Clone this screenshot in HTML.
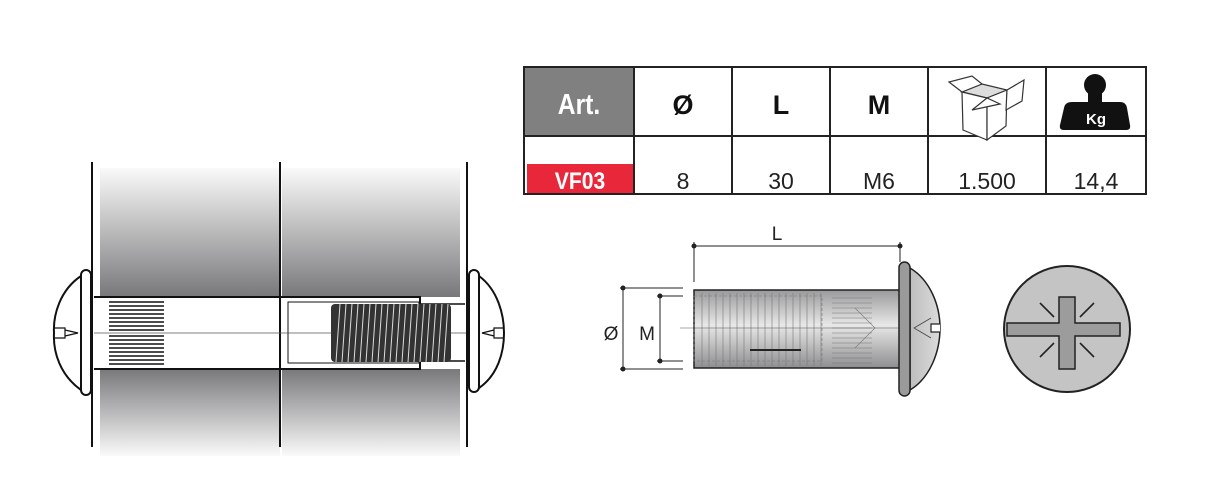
<!DOCTYPE html>
<html><head><meta charset="utf-8"><style>
html,body{margin:0;padding:0;background:#fff;}
svg{display:block}
text{font-family:"Liberation Sans",sans-serif;}
</style></head><body>
<svg width="1221" height="504" viewBox="0 0 1221 504" xmlns="http://www.w3.org/2000/svg">
<defs>
<linearGradient id="gt" x1="0" y1="0" x2="0" y2="1"><stop offset="0" stop-color="#fafafa"/><stop offset="1" stop-color="#77777a"/></linearGradient>
<linearGradient id="gb" x1="0" y1="0" x2="0" y2="1"><stop offset="0" stop-color="#77777a"/><stop offset="1" stop-color="#fafafa"/></linearGradient>
<linearGradient id="gs" x1="0" y1="0" x2="0" y2="1"><stop offset="0" stop-color="#9a9a9c"/><stop offset="0.45" stop-color="#e8e8e8"/><stop offset="1" stop-color="#8e8e90"/></linearGradient>
<linearGradient id="gh" x1="0" y1="0" x2="1" y2="0"><stop offset="0" stop-color="#bdbdbd"/><stop offset="1" stop-color="#dcdcdc"/></linearGradient>
</defs>
<rect x="524" y="67" width="110" height="69" fill="#808080"/>
<rect x="527" y="164" width="107" height="29" fill="#e8283a"/>
<g stroke="#222" stroke-width="2" fill="none">
<rect x="524" y="67" width="622" height="127"/>
<line x1="524" y1="136" x2="1146" y2="136"/>
<line x1="634" y1="67" x2="634" y2="194"/>
<line x1="732" y1="67" x2="732" y2="194"/>
<line x1="830" y1="67" x2="830" y2="194"/>
<line x1="928" y1="67" x2="928" y2="194"/>
<line x1="1046" y1="67" x2="1046" y2="194"/>
</g>
<text x="579" y="114" font-size="29" font-weight="bold" fill="#fff" text-anchor="middle" transform="translate(579 0) scale(0.85 1) translate(-579 0)">Art.</text>
<text x="683" y="114" font-size="27" font-weight="bold" fill="#111" text-anchor="middle">Ø</text>
<text x="781" y="114" font-size="27" font-weight="bold" fill="#111" text-anchor="middle">L</text>
<text x="879" y="114" font-size="27" font-weight="bold" fill="#111" text-anchor="middle">M</text>
<text x="580" y="189" font-size="24" font-weight="bold" fill="#fff" text-anchor="middle" transform="translate(580 0) scale(0.88 1) translate(-580 0)">VF03</text>
<g font-size="23" fill="#222" text-anchor="middle">
<text x="683" y="189">8</text><text x="781" y="189">30</text><text x="879" y="189">M6</text><text x="987" y="189">1.500</text><text x="1096" y="189">14,4</text>
</g>
<g stroke="#333" stroke-width="1.2" fill="#fff">
<polygon points="962,92 982,84 1007,90 987,98" fill="#ddd"/>
<polygon points="962,92 987,98 987,140 963,130"/>
<polygon points="987,98 1007,90 1006,126 987,140"/>
<polygon points="962,92 949,82 972,76 982,84"/>
<polygon points="1007,90 1024,80 1022,101 1006,110"/>
<polygon points="987,98 972,110 1000,104"/>
</g>
<circle cx="1095" cy="85" r="11" fill="#111"/>
<rect x="1088" y="90" width="14" height="14" fill="#111"/>
<path d="M1072 102 L1120 102 Q1126 102 1127 108 L1130 125 Q1131 130 1126 130 L1064 130 Q1059 130 1060 125 L1064 108 Q1065 102 1072 102 Z" fill="#111"/>
<text x="1096" y="124" font-size="15" font-weight="bold" fill="#fff" text-anchor="middle">Kg</text>
<rect x="100" y="168" width="180" height="130" fill="url(#gt)"/>
<rect x="282" y="168" width="178" height="130" fill="url(#gt)"/>
<rect x="100" y="368" width="180" height="88" fill="url(#gb)"/>
<rect x="282" y="368" width="178" height="88" fill="url(#gb)"/>
<rect x="94" y="297" width="372" height="72" fill="#fff"/>
<g stroke="#111" fill="none">
<line x1="92" y1="162" x2="92" y2="447" stroke-width="2"/>
<line x1="280" y1="162" x2="280" y2="447" stroke-width="2"/>
<line x1="467" y1="162" x2="467" y2="447" stroke-width="2"/>
<path d="M94 297 H420 V369 H94" stroke-width="2"/>
<rect x="288" y="302" width="131" height="61" stroke-width="1"/>
<path d="M420 304 H465 M420 361 H465" stroke-width="1.5"/>
<line x1="94" y1="333" x2="466" y2="333" stroke-width="0.8" stroke="#555"/>
<rect x="81" y="270" width="10" height="125" rx="5" stroke-width="2" fill="#fff"/>
<path d="M81 276 C60 290 53 315 54 333 C53 352 60 375 81 390" stroke-width="2"/>
<path d="M54 328 H65 V338 H54 M65 330 L78 333 L65 336" stroke-width="1.2"/>
<rect x="469" y="270" width="10" height="122" rx="5" stroke-width="2" fill="#fff"/>
<path d="M479 276 C498 290 504 315 504 333 C504 352 498 375 479 388" stroke-width="2"/>
<path d="M504 328 H494 V338 H504 M494 330 L482 333 L494 336" stroke-width="1.2"/>
</g>
<g stroke="#111" stroke-width="1.6">
<line x1="109" y1="302" x2="164" y2="302"/><line x1="109" y1="306" x2="164" y2="306"/><line x1="109" y1="310" x2="164" y2="310"/><line x1="109" y1="314" x2="164" y2="314"/><line x1="109" y1="318" x2="164" y2="318"/><line x1="109" y1="322" x2="164" y2="322"/><line x1="109" y1="326" x2="164" y2="326"/><line x1="109" y1="330" x2="164" y2="330"/><line x1="109" y1="336" x2="164" y2="336"/><line x1="109" y1="340" x2="164" y2="340"/><line x1="109" y1="344" x2="164" y2="344"/><line x1="109" y1="348" x2="164" y2="348"/><line x1="109" y1="352" x2="164" y2="352"/><line x1="109" y1="356" x2="164" y2="356"/><line x1="109" y1="360" x2="164" y2="360"/><line x1="109" y1="364" x2="164" y2="364"/>
</g>
<rect x="331" y="304" width="120" height="58" rx="4" fill="#333"/>
<g stroke="#ddd" stroke-width="1">
<path d="M336 362 L340 304 M342 362 L346 304 M348 362 L352 304 M354 362 L358 304 M360 362 L364 304 M366 362 L370 304 M372 362 L376 304 M378 362 L382 304 M384 362 L388 304 M390 362 L394 304 M396 362 L400 304 M402 362 L406 304 M408 362 L412 304 M414 362 L418 304 M420 362 L424 304 M426 362 L430 304 M432 362 L436 304 M438 362 L442 304 M444 362 L448 304"/>
</g>
<g stroke="#222" fill="none" stroke-width="1">
<line x1="694" y1="246" x2="900" y2="246"/>
<line x1="694" y1="242" x2="694" y2="282"/>
<line x1="900" y1="242" x2="900" y2="262"/>
<line x1="620" y1="288" x2="683" y2="288"/>
<line x1="620" y1="369" x2="683" y2="369"/>
<line x1="623" y1="288" x2="623" y2="369"/>
<line x1="657" y1="296" x2="683" y2="296"/>
<line x1="657" y1="361" x2="683" y2="361"/>
<line x1="660" y1="296" x2="660" y2="361"/>
</g>
<g fill="#222"><circle cx="694" cy="246" r="2.5"/><circle cx="900" cy="246" r="2.5"/><circle cx="623" cy="288" r="2.5"/><circle cx="623" cy="369" r="2.5"/><circle cx="660" cy="296" r="2.5"/><circle cx="660" cy="361" r="2.5"/></g>
<text x="777" y="240" font-size="19" fill="#222" text-anchor="middle">L</text>
<text x="611" y="340" font-size="19" fill="#222" text-anchor="middle">Ø</text>
<text x="647" y="340" font-size="19" fill="#222" text-anchor="middle">M</text>
<rect x="694" y="290" width="206" height="78" fill="url(#gs)" stroke="#222" stroke-width="1.5"/>
<g stroke="#777" stroke-width="0.6">
<path d="M702 293 V366 M709 293 V366 M716 293 V366 M723 293 V366 M730 293 V366 M737 293 V366 M744 293 V366 M751 293 V366 M758 293 V366 M765 293 V366 M772 293 V366 M779 293 V366 M786 293 V366 M793 293 V366 M800 293 V366 M807 293 V366 M814 293 V366 M821 293 V366"/>
<path d="M832 298 H872 M832 303 H872 M832 308 H872 M832 313 H872 M832 318 H872 M832 323 H872 M832 328 H872 M832 333 H872 M832 338 H872 M832 343 H872 M832 348 H872 M832 353 H872 M832 358 H872 M832 363 H872"/>
<path d="M855 308 L875 328 L855 348" fill="none"/>
<rect x="694" y="296" width="128" height="65" fill="none" stroke-dasharray="3 2"/>
</g>
<line x1="750" y1="350" x2="801" y2="350" stroke="#222" stroke-width="2"/>
<line x1="680" y1="328" x2="940" y2="328" stroke="#555" stroke-width="0.6"/>
<path d="M910 268 C930 280 940 305 940 328 C940 352 930 378 910 390 Z" fill="url(#gh)" stroke="#222" stroke-width="1.5"/>
<rect x="899" y="262" width="11" height="134" rx="5.5" fill="#9a9a9a" stroke="#222" stroke-width="1.5"/>
<path d="M940 324 H931 V332 H940" fill="#fff" stroke="#222" stroke-width="1.2"/>
<path d="M931 318 L914 328 L931 338" fill="none" stroke="#444" stroke-width="0.8"/>
<circle cx="1067" cy="329" r="63" fill="#c4c4c4" stroke="#222" stroke-width="2"/>
<path d="M1059 297 H1075 V323 H1120 V336 H1075 V369 H1059 V336 H1007 V323 H1059 Z" fill="#9c9c9c" stroke="#222" stroke-width="1.5"/>
<g stroke="#222" stroke-width="1.6">
<line x1="1040" y1="303" x2="1054" y2="317"/><line x1="1094" y1="303" x2="1080" y2="317"/>
<line x1="1040" y1="357" x2="1054" y2="343"/><line x1="1094" y1="357" x2="1080" y2="343"/>
</g>
</svg>
</body></html>
